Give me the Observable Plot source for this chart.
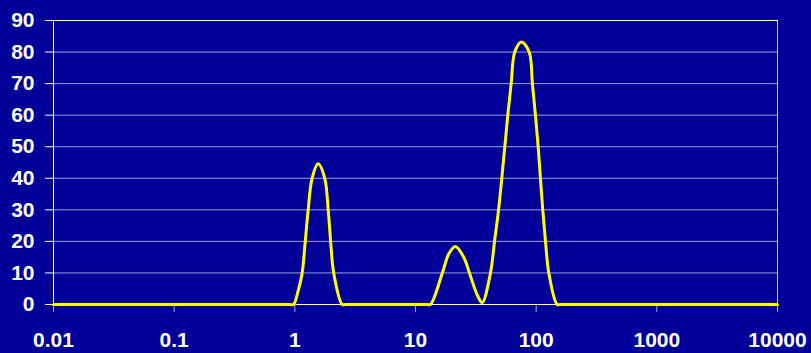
<!DOCTYPE html>
<html>
<head>
<meta charset="utf-8">
<script src="https://cdn.jsdelivr.net/npm/d3@7"></script>
<script src="https://cdn.jsdelivr.net/npm/@observablehq/plot@0.6"></script>
<style>
  html, body { margin: 0; padding: 0; background: #000099; }
  #chart { width: 811px; height: 353px; overflow: hidden; }
</style>
</head>
<body>
<div id="chart"></div>
<script>
// Particle size distribution: size (log axis) against frequency
const size = [
  0.01, 0.9,
  0.975, 1.06, 1.15, 1.22, 1.29, 1.39, 1.56, 1.77, 1.89, 1.98, 2.10, 2.47, 2.65,
  12.4, 13.3, 16.7, 18.9, 21.4, 25.1, 28.0, 32.5, 35.7,
  41.8, 45.2, 48.8, 51.9, 55.0, 58.2, 62.1, 66.5, 75.5, 87.5,
  93.1, 98.6, 103.9, 108.5, 113.4, 119.5, 127.3, 149.4, 160,
  10000
];
const frequency = [
  0, 0,
  0, 4, 10, 20, 30, 40, 44.6, 40, 30, 20, 10, 0, 0,
  0, 0, 10, 16.1, 18.4, 15, 10, 3, 0.6,
  10, 20, 30, 40, 50, 60, 70, 80, 83.2, 80,
  70, 60, 50, 40, 30, 20, 10, 0, 0,
  0
];
const xTicks = [0.01, 0.1, 1, 10, 100, 1000, 10000];
const yTicks = [0, 10, 20, 30, 40, 50, 60, 70, 80, 90];

const points = size.map((s, i) => ({size: s, frequency: frequency[i]}));

const chart = Plot.plot({
  width: 811,
  height: 353,
  marginLeft: 53,
  marginRight: 34,
  marginTop: 20,
  marginBottom: 49,
  style: {
    background: "#000099",
    color: "white",
    fontFamily: "'Liberation Sans', Arial, sans-serif",
    fontSize: "21px",
    fontWeight: "bold"
  },
  x: {type: "log", domain: [0.01, 10000]},
  y: {domain: [0, 90]},
  marks: [
    Plot.gridY(yTicks, {stroke: "white", strokeOpacity: 0.62}),
    Plot.ruleY([90], {stroke: "white"}),
    Plot.ruleX([10000], {stroke: "#d4d4ec"}),
    Plot.ruleX([0.01], {stroke: "white"}),
    Plot.ruleY([0], {stroke: "white"}),
    Plot.axisY(yTicks, {
      tickSize: 8,
      tickPadding: 11,
      stroke: "white",
      fill: "white",
      label: null,
      fontSize: 21,
      fontWeight: "bold"
    }),
    Plot.axisX(xTicks, {
      tickSize: 8,
      tickPadding: 20,
      tickFormat: d => String(d),
      stroke: "#a8a8d4",
      fill: "white",
      label: null,
      fontSize: 21,
      fontWeight: "bold"
    }),
    Plot.line(points, {
      x: "size",
      y: "frequency",
      stroke: "#ffff00",
      strokeWidth: 3,
      curve: "catmull-rom"
    })
  ]
});

document.getElementById("chart").appendChild(chart);
</script>
</body>
</html>
